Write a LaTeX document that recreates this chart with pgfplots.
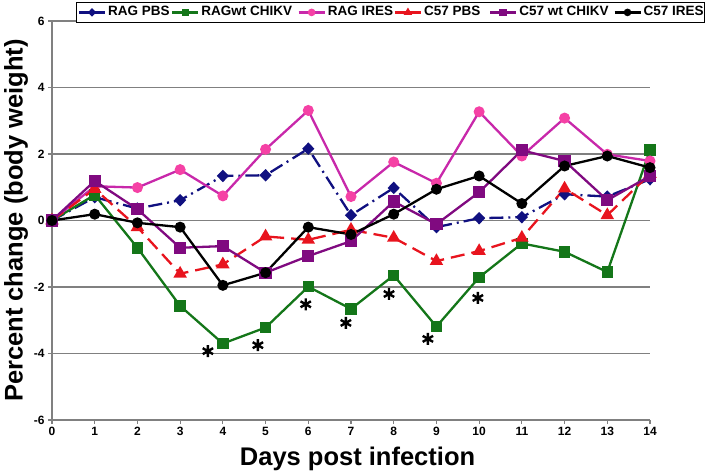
\documentclass[border=0pt]{standalone}
\usepackage{fontspec}
\setmainfont{Liberation Sans}
\usepackage{pgfplots}
\pgfplotsset{compat=1.18}
\definecolor{cnavy}{RGB}{16,16,128}
\definecolor{cgreen}{RGB}{20,118,25}
\definecolor{cmag}{RGB}{200,40,170}
\definecolor{cpink}{RGB}{245,65,165}
\definecolor{cred}{RGB}{232,20,30}
\definecolor{cpurple}{RGB}{128,10,128}
\definecolor{cgrid}{RGB}{128,128,128}
\begin{document}
\begin{tikzpicture}
\begin{axis}[
  at={(0,0)}, anchor=south west,
  scale only axis, width=598bp, height=399bp,
  xmin=0, xmax=14, ymin=-6, ymax=6,
  xtick={0,1,...,14}, ytick={-6,-4,...,6},
  axis x line*=bottom, axis y line*=left,
  axis line style={-, draw=cgrid, line width=1.3bp},
  ymajorgrids, grid style={draw=cgrid, line width=1.3bp},
  tick align=outside, major tick length=4bp,
  tick style={draw=cgrid, line width=1.1bp},
  /pgf/number format/assume math mode=true,
  ticklabel style={font=\fontsize{12bp}{14bp}\selectfont\bfseries},
  xlabel={Days post infection}, ylabel={Percent change (body weight)},
  label style={font=\fontsize{25.5bp}{30bp}\selectfont\bfseries},
  xlabel style={at={(axis description cs:0.511,-0.1128)}, anchor=base},
  ylabel style={at={(axis description cs:-0.0602,0.5)}, anchor=center},
  legend columns=6,
  legend cell align=left,
  legend style={at={(axis description cs:0.0401,1.0476)}, anchor=north west,
    draw=black, line width=0.8bp, fill=white,
    font=\fontsize{13.5bp}{16bp}\selectfont\bfseries, inner sep=1.5bp,
    /tikz/every even column/.style={column sep=0pt},
    nodes={inner xsep=2bp, inner ysep=2bp, text height=10bp, text depth=3bp}},
  legend image code/.code={\draw[mark repeat=2, mark phase=2, mark size=2.6bp, solid]
     plot coordinates {(0bp,0bp) (13bp,0bp) (26bp,0bp)};},
]
% RAG PBS
\addplot[cnavy, line width=2.3bp, dash pattern=on 14bp off 5bp on 2bp off 5bp,
  mark=diamond*, mark size=4.6bp, mark options={solid, cnavy, xscale=1.3}]
 coordinates {(0,0) (1,0.70) (2,0.36) (3,0.61) (4,1.34) (5,1.36) (6,2.16) (7,0.16) (8,0.98) (9,-0.20) (10,0.07) (11,0.10) (12,0.79) (13,0.72) (14,1.24)};
\addlegendentry{\makebox[61bp][l]{RAG PBS}}
% RAG wt CHIKV
\addplot[cgreen, line width=2.3bp, mark=square*, mark size=4.6bp, mark options={solid, cgreen}]
 coordinates {(0,0) (1,0.77) (2,-0.82) (3,-2.57) (4,-3.70) (5,-3.22) (6,-1.99) (7,-2.66) (8,-1.65) (9,-3.19) (10,-1.71) (11,-0.69) (12,-0.94) (13,-1.55) (14,2.12)};
\addlegendentry{\makebox[94bp][l]{RAGwt CHIKV}}
% RAG IRES
\addplot[cmag, line width=2.3bp, mark=*, mark size=4.3bp, mark options={solid, draw=cpink, fill=cpink}]
 coordinates {(0,0) (1,1.03) (2,0.99) (3,1.53) (4,0.74) (5,2.14) (6,3.31) (7,0.72) (8,1.76) (9,1.12) (10,3.27) (11,1.94) (12,3.08) (13,1.99) (14,1.79)};
\addlegendentry{\makebox[64bp][l]{RAG IRES}}
% C57 PBS
\addplot[cred, line width=2.3bp, dash pattern=on 14bp off 7bp,
  mark=triangle*, mark size=5.5bp, mark options={solid, cred}]
 coordinates {(0,0) (1,0.95) (2,-0.20) (3,-1.60) (4,-1.32) (5,-0.48) (6,-0.58) (7,-0.28) (8,-0.52) (9,-1.22) (10,-0.92) (11,-0.52) (12,0.96) (13,0.16) (14,1.40)};
\addlegendentry{\makebox[63bp][l]{C57 PBS}}
% C57 wt CHIKV
\addplot[cpurple, line width=2.3bp, mark=square*, mark size=5bp, mark options={solid, cpurple}]
 coordinates {(0,0) (1,1.19) (2,0.34) (3,-0.82) (4,-0.77) (5,-1.57) (6,-1.07) (7,-0.62) (8,0.57) (9,-0.11) (10,0.85) (11,2.11) (12,1.79) (13,0.61) (14,1.34)};
\addlegendentry{\makebox[92bp][l]{C57 wt CHIKV}}
% C57 IRES
\addplot[black, line width=2.3bp, mark=*, mark size=4.3bp, mark options={solid, black}]
 coordinates {(0,0) (1,0.19) (2,-0.07) (3,-0.20) (4,-1.95) (5,-1.57) (6,-0.20) (7,-0.42) (8,0.19) (9,0.94) (10,1.34) (11,0.51) (12,1.64) (13,1.94) (14,1.59)};
\addlegendentry{\makebox[57bp][l]{C57 IRES}}
% significance asterisks
\addplot[only marks, forget plot, mark=asterisk, mark size=6bp, line width=2.4bp, black]
 coordinates {(3.65,-3.93) (4.82,-3.75) (5.94,-2.52) (6.88,-3.08) (7.89,-2.21) (8.80,-3.56) (9.97,-2.33)};
\end{axis}
\pgfresetboundingbox
\useasboundingbox (-52bp,-55bp) rectangle (655bp,420bp);
\end{tikzpicture}
\end{document}
